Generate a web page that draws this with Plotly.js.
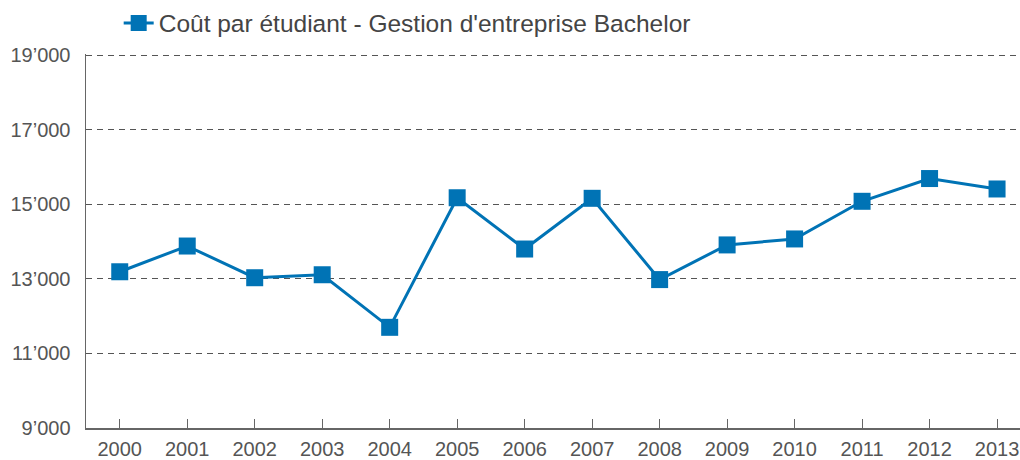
<!DOCTYPE html>
<html>
<head>
<meta charset="utf-8">
<script src="https://cdn.plot.ly/plotly-3.0.1.min.js"></script>
<style>html,body{margin:0;padding:0;background:#fff;}#chart{width:1020px;height:460px;}</style>
</head>
<body>
<div id="chart"></div>
<script>
const years = [2000, 2001, 2002, 2003, 2004, 2005, 2006, 2007, 2008, 2009, 2010, 2011, 2012, 2013];
const cost = [13190, 13880, 13030, 13110, 11700, 15175, 13800, 15160, 12980, 13910, 14070, 15080, 15690, 15410];
const seriesName = "Coût par étudiant - Gestion d'entreprise Bachelor";
const yTickVals = [9000, 11000, 13000, 15000, 17000, 19000];
const yTickText = ["9’000", "11’000", "13’000", "15’000", "17’000", "19’000"];
const xTickText = years.map(String);

const blue = '#0073b5';
const font = "'Liberation Sans', Arial, sans-serif";

const trace = {
  x: years, y: cost, name: seriesName, type: 'scatter', mode: 'lines+markers',
  line: {color: blue, width: 3},
  marker: {symbol: 'square', size: 17, color: blue},
  showlegend: true
};

const layout = {
  width: 1020, height: 460,
  margin: {l: 86, r: 0, t: 51, b: 32},
  paper_bgcolor: '#fff', plot_bgcolor: '#fff',
  font: {family: font, color: '#555', size: 20},
  showlegend: true,
  legend: {orientation: 'h', x: 0.035, xanchor: 'left', y: 1.083, yanchor: 'middle',
           font: {family: font, size: 24.5, color: '#444'}, itemsizing: 'trace', bgcolor: 'rgba(0,0,0,0)'},
  xaxis: {
    range: [1999.5, 2013.34], tickvals: years, ticktext: xTickText,
    showgrid: false, zeroline: false,
    showline: true, linecolor: '#666', linewidth: 1.5,
    ticks: 'inside', ticklen: 9, tickcolor: '#666', tickwidth: 1,
    ticklabelstandoff: 2,
    tickfont: {family: font, size: 20, color: '#555'}
  },
  yaxis: {
    range: [9000, 19030], tickvals: yTickVals, ticktext: yTickText,
    showgrid: true, gridcolor: '#555', gridwidth: 1, griddash: '6px,5px',
    zeroline: false, showline: true, linecolor: '#666', linewidth: 1.5,
    ticks: '', ticklabelstandoff: 10,
    tickfont: {family: font, size: 20, color: '#555'}
  }
};

Plotly.newPlot('chart', [trace], layout, {displayModeBar: false, staticPlot: true});
</script>
</body>
</html>
